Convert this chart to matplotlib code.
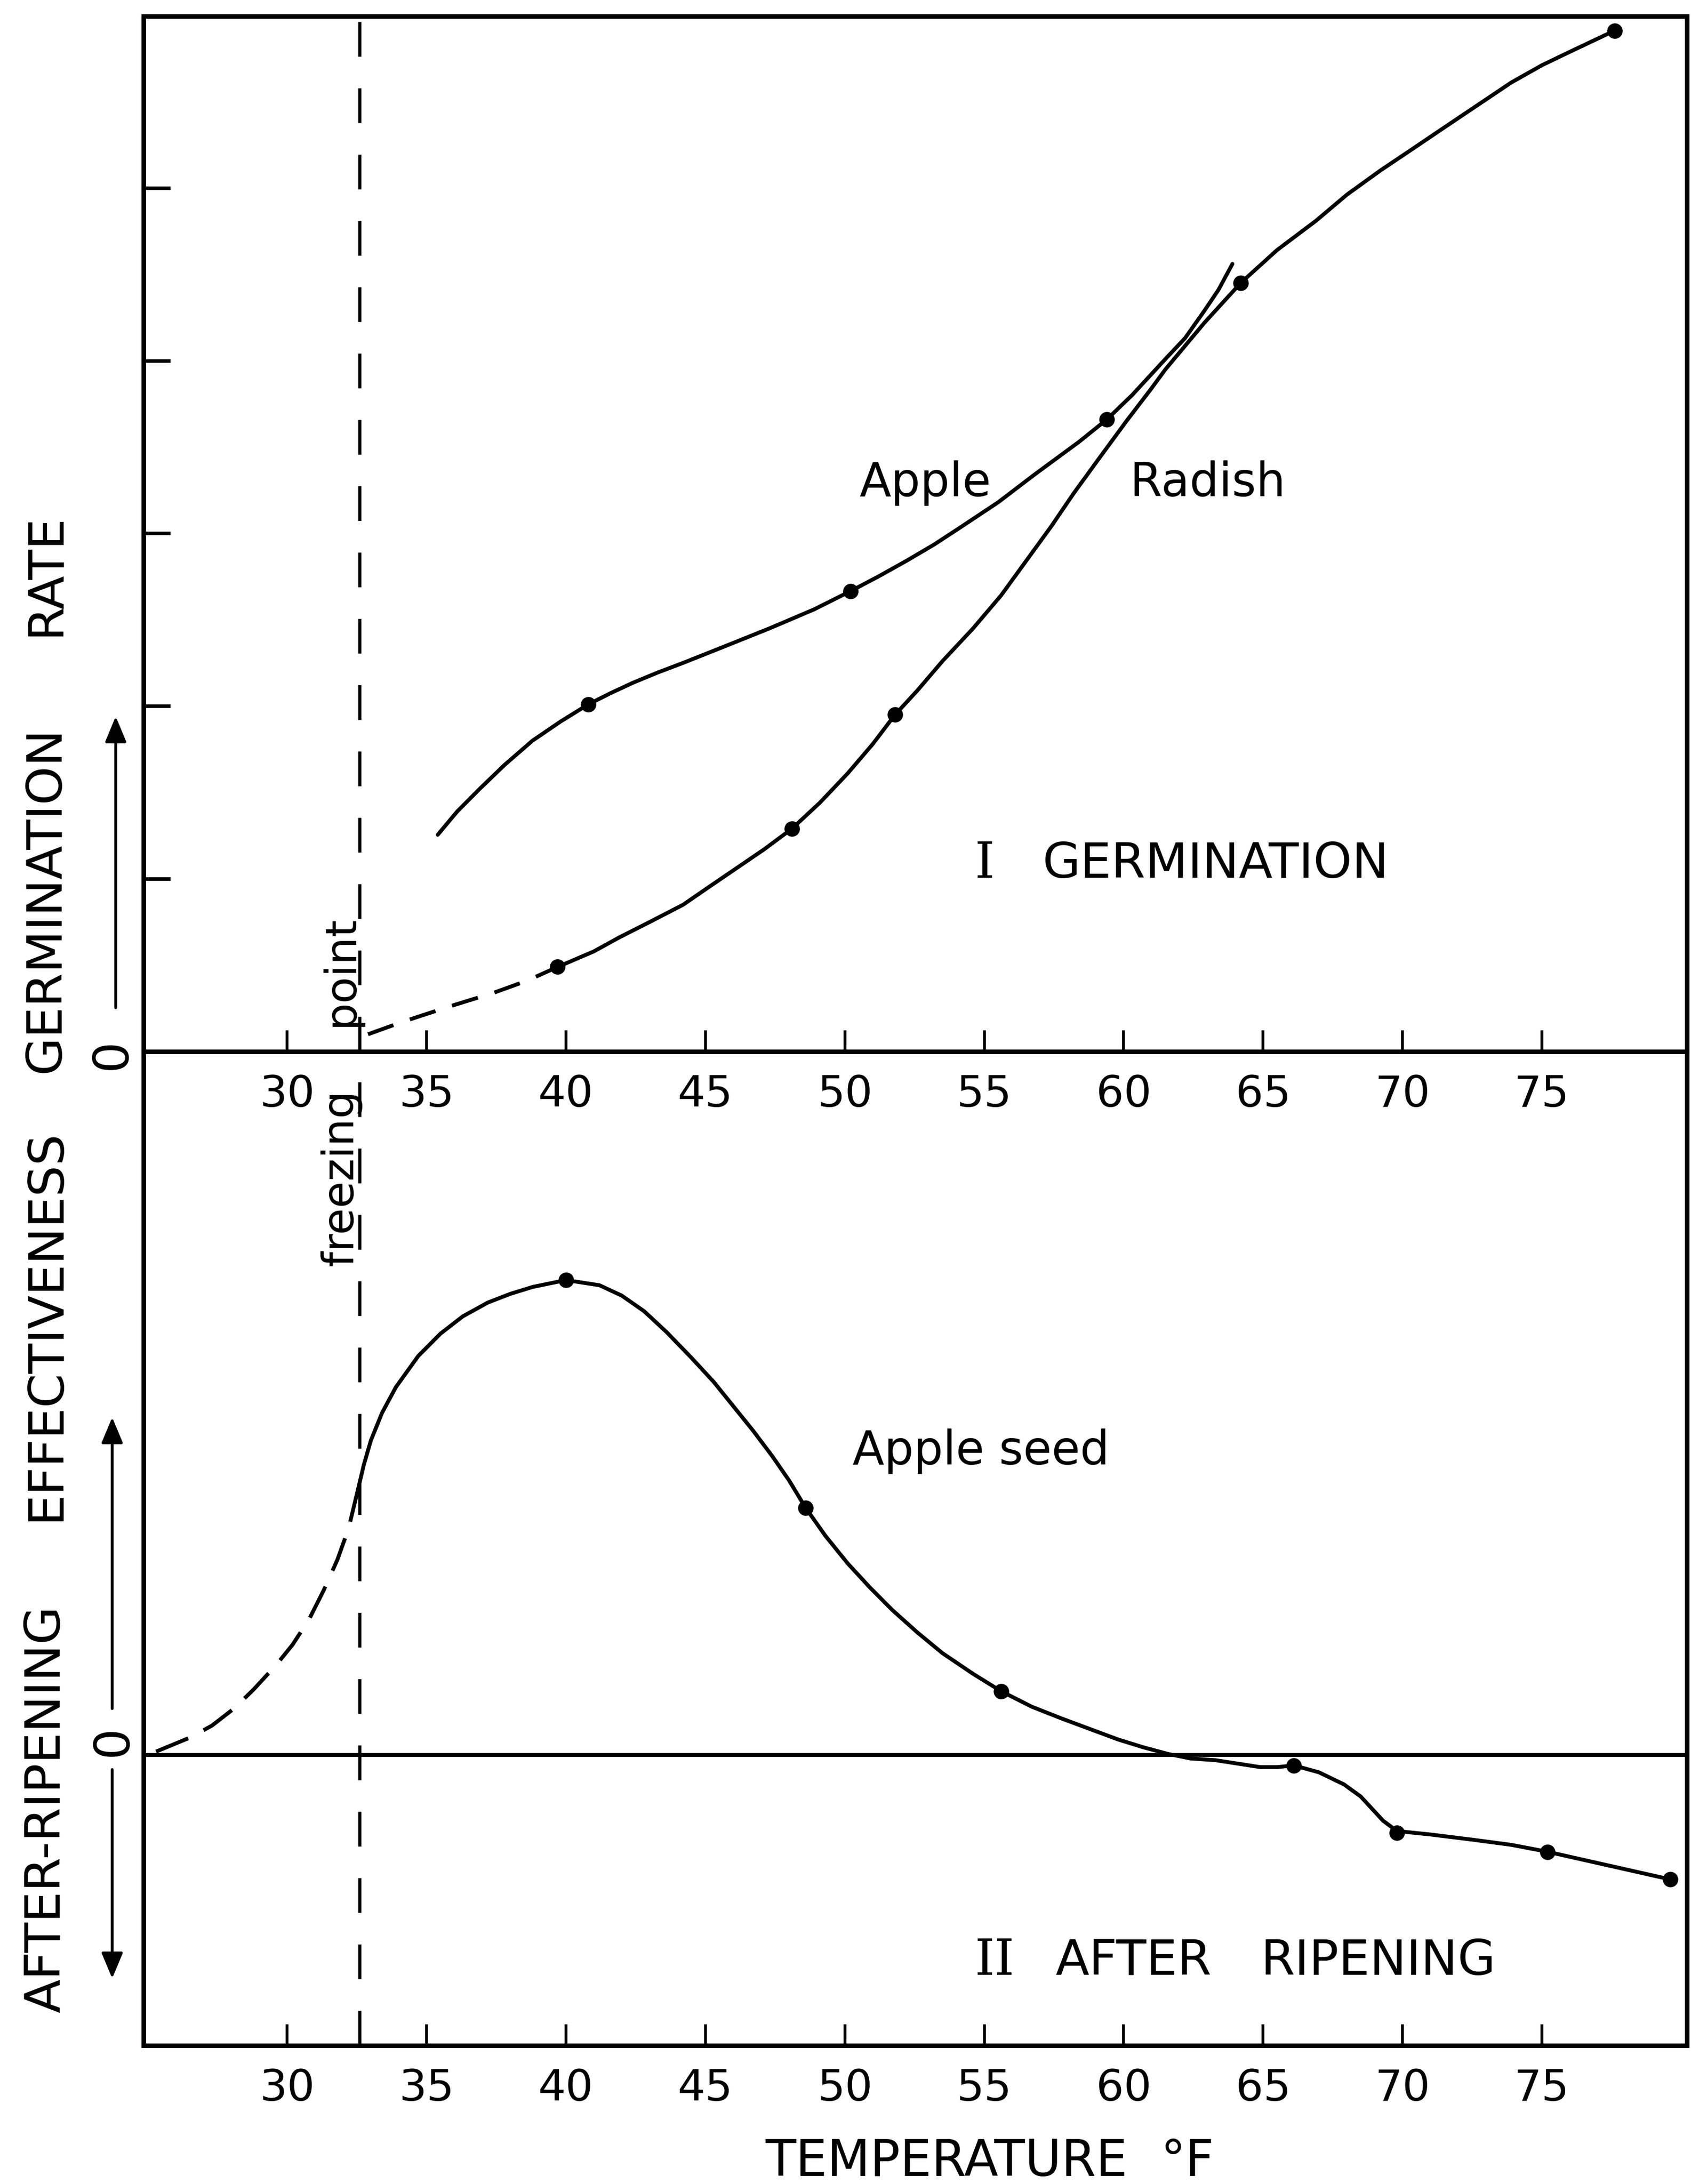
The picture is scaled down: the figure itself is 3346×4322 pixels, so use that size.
import matplotlib
matplotlib.use("Agg")
import matplotlib.pyplot as plt
from matplotlib.patches import FancyArrowPatch

# ---------------- data ----------------
temp_ticks = [30, 35, 40, 45, 50, 55, 60, 65, 70, 75]
freezing_point = 32.6

# I  Germination rate (arbitrary units, 0 at the axis)
apple_germ_x = [35.4, 36.1, 36.9, 37.8, 38.8, 39.8, 40.8, 41.6, 42.4, 43.3, 44.2, 45.6,
                47.3, 48.9, 50.2, 51.2, 52.2, 53.2, 54.1, 55.5, 56.8, 58.4, 59.4, 60.3,
                61.5, 62.2, 62.9, 63.4, 63.9]
apple_germ_y = [1.255, 1.39, 1.52, 1.66, 1.80, 1.91, 2.01, 2.075, 2.135, 2.195, 2.25, 2.34,
                2.45, 2.56, 2.665, 2.75, 2.84, 2.935, 3.03, 3.18, 3.34, 3.53, 3.66, 3.80,
                4.01, 4.13, 4.29, 4.41, 4.56]
apple_germ_obs_x = [40.8, 50.2, 59.4]
apple_germ_obs_y = [2.01, 2.665, 3.66]

radish_dash_x = [32.9, 34.1, 35.8, 37.4, 38.6, 39.7]
radish_dash_y = [0.10, 0.17, 0.26, 0.34, 0.41, 0.49]
radish_x = [39.7, 41.0, 41.9, 43.0, 44.2, 45.1, 46.1, 47.1, 48.1, 49.1, 50.1, 51.0,
            51.8, 52.6, 53.5, 54.6, 55.6, 56.5, 57.4, 58.2, 59.1, 60.1, 61.0, 61.5,
            62.9, 64.2, 65.5, 66.9, 68.0, 69.2, 70.4, 71.5, 72.7, 73.9, 75.0, 75.9, 77.6]
radish_y = [0.49, 0.58, 0.66, 0.75, 0.85, 0.95, 1.06, 1.17, 1.29, 1.44, 1.61, 1.78,
            1.95, 2.09, 2.26, 2.45, 2.64, 2.84, 3.04, 3.23, 3.43, 3.65, 3.84, 3.95,
            4.22, 4.45, 4.64, 4.81, 4.96, 5.10, 5.23, 5.35, 5.48, 5.61, 5.71, 5.78, 5.91]
radish_obs_x = [39.7, 48.1, 51.8, 64.2, 77.6]
radish_obs_y = [0.49, 1.29, 1.95, 4.45, 5.91]

# II  After-ripening effectiveness of apple seed
ripen_dash_x = [25.3, 26.5, 27.3, 28.1, 28.8, 29.6, 30.2, 30.8, 31.3, 31.8, 32.2, 32.5]
ripen_dash_y = [0.02, 0.10, 0.17, 0.27, 0.38, 0.52, 0.64, 0.79, 0.95, 1.13, 1.31, 1.51]
ripen_x = [32.5, 32.75, 33.0, 33.4, 33.9, 34.7, 35.5, 36.3, 37.2, 38.0, 38.8, 40.0, 41.2,
           42.0, 42.8, 43.6, 44.5, 45.3, 46.1, 46.7, 47.4, 48.0, 48.6, 49.3, 50.1,
           50.9, 51.7, 52.6, 53.5, 54.6, 55.6, 56.7, 57.8, 58.8, 59.8, 60.7, 61.6,
           62.4, 63.3, 64.1, 64.9, 65.5, 66.1, 67.0, 67.9, 68.5, 68.9, 69.3, 69.8,
           71.0, 72.5, 73.9, 75.2, 76.3, 77.4, 78.5, 79.6]
ripen_y = [1.51, 1.68, 1.82, 1.98, 2.13, 2.31, 2.44, 2.54, 2.62, 2.67, 2.71, 2.75, 2.72,
           2.66, 2.57, 2.45, 2.30, 2.16, 2.00, 1.88, 1.73, 1.59, 1.43, 1.27, 1.11,
           0.97, 0.84, 0.71, 0.59, 0.47, 0.37, 0.28, 0.21, 0.15, 0.09, 0.045, 0.006,
           -0.02, -0.03, -0.05, -0.07, -0.07, -0.06, -0.10, -0.17, -0.24, -0.31, -0.38, -0.44,
           -0.46, -0.49, -0.52, -0.56, -0.60, -0.64, -0.68, -0.72]
ripen_obs_x = [40.0, 48.6, 55.6, 66.1, 69.8, 75.2, 79.6]
ripen_obs_y = [2.75, 1.43, 0.37, -0.06, -0.45, -0.56, -0.72]

# ---------------- figure ----------------
W, H = 3346, 4322
plt.rcParams['font.family'] = ['DejaVu Sans']
fig = plt.figure(figsize=(W / 100, H / 100), dpi=100)


def fx(X):
    return X / W


def fy(Y):
    return 1 - Y / H


LW_SPINE = 6.5
LW_CURVE = 5.5
MS = 21

ax1 = fig.add_axes([fx(284), fy(2081), (3338 - 284) / W, (2081 - 32) / H])
ax2 = fig.add_axes([fx(284), fy(4048), (3338 - 284) / W, (4048 - 2081) / H])

for ax in (ax1, ax2):
    ax.patch.set_visible(False)
    ax.set_xlim(24.85, 80.2)
    for s in ax.spines.values():
        s.set_linewidth(LW_SPINE)
    ax.set_xticks(temp_ticks)
    ax.set_xticklabels([str(t) for t in temp_ticks])
    ax.tick_params(axis='x', direction='in', length=30, width=4, pad=32,
                   labelsize=62)
    ax.axvline(freezing_point, color='k', lw=4.5, dashes=(11, 10))

ax1.set_ylim(0, 5.994)
ax2.set_ylim(-1.682, 4.073)
ax2.spines['top'].set_visible(False)

ax1.set_yticks([1, 2, 3, 4, 5])
ax1.tick_params(axis='y', direction='in', length=38, width=5, labelleft=False)
ax2.set_yticks([])

# --- panel I ---
ax1.plot(apple_germ_x, apple_germ_y, color='k', lw=LW_CURVE,
         solid_capstyle='round', solid_joinstyle='round')
ax1.plot(apple_germ_obs_x, apple_germ_obs_y, 'o', color='k', ms=MS)
ax1.plot(radish_dash_x, radish_dash_y, color='k', lw=LW_CURVE, dashes=(7, 4.5))
ax1.plot(radish_x, radish_y, color='k', lw=LW_CURVE,
         solid_capstyle='round', solid_joinstyle='round')
ax1.plot(radish_obs_x, radish_obs_y, 'o', color='k', ms=MS)

# --- panel II ---
ax2.axhline(0, color='k', lw=5.5)
ax2.plot(ripen_dash_x, ripen_dash_y, color='k', lw=LW_CURVE, dashes=(9, 4.5))
ax2.plot(ripen_x, ripen_y, color='k', lw=LW_CURVE,
         solid_capstyle='round', solid_joinstyle='round')
ax2.plot(ripen_obs_x, ripen_obs_y, 'o', color='k', ms=MS)

# ---------------- text ----------------
def ftext(X, Y, s, size, **kw):
    fig.text(fx(X), fy(Y), s, fontsize=size, color='k', **kw)


ftext(1700, 982, "Apple", 66, ha='left', va='baseline')
ftext(2236, 982, "Radish", 66, ha='left', va='baseline')
ftext(1928, 1737, "I", 72, ha='left', va='baseline', family='DejaVu Serif')
ftext(2062, 1737, "GERMINATION", 70, ha='left', va='baseline')
ftext(1687, 2898, "Apple seed", 66, ha='left', va='baseline')
ftext(1928, 3908, "II", 72, ha='left', va='baseline', family='DejaVu Serif')
ftext(2088, 3908, "AFTER", 70, ha='left', va='baseline')
ftext(2494, 3908, "RIPENING", 70, ha='left', va='baseline')
ftext(1514, 4306, "TEMPERATURE", 71, ha='left', va='baseline')
ftext(2297, 4306, "\u00b0F", 71, ha='left', va='baseline')

rot = dict(rotation=90, rotation_mode='anchor', ha='center', va='baseline')
ftext(118, 1780, "GERMINATION", 70, **rot)
ftext(118, 1137, "RATE", 70, **rot)
ftext(118, 3580, "AFTER-RIPENING", 70, **rot)
ftext(118, 2622, "EFFECTIVENESS", 70, **rot)
ftext(698, 2331, "freezing", 62, **rot)
ftext(698, 1922, "point", 62, **rot)

ftext(222, 2086, "0", 70, rotation=90, rotation_mode='anchor', ha='center', va='center')
ftext(224, 3445, "0", 70, rotation=90, rotation_mode='anchor', ha='center', va='center')


def farrow(x0, y0, x1, y1):
    a = FancyArrowPatch((fx(x0), fy(y0)), (fx(x1), fy(y1)), transform=fig.transFigure,
                        arrowstyle='-|>,head_length=1.2,head_width=0.5',
                        mutation_scale=26, lw=4, color='k')
    fig.patches.append(a)


farrow(229, 1997, 229, 1415)
farrow(222, 3384, 222, 2802)
farrow(222, 3499, 222, 3918)

fig.savefig("out.png", dpi=100, facecolor='white')
